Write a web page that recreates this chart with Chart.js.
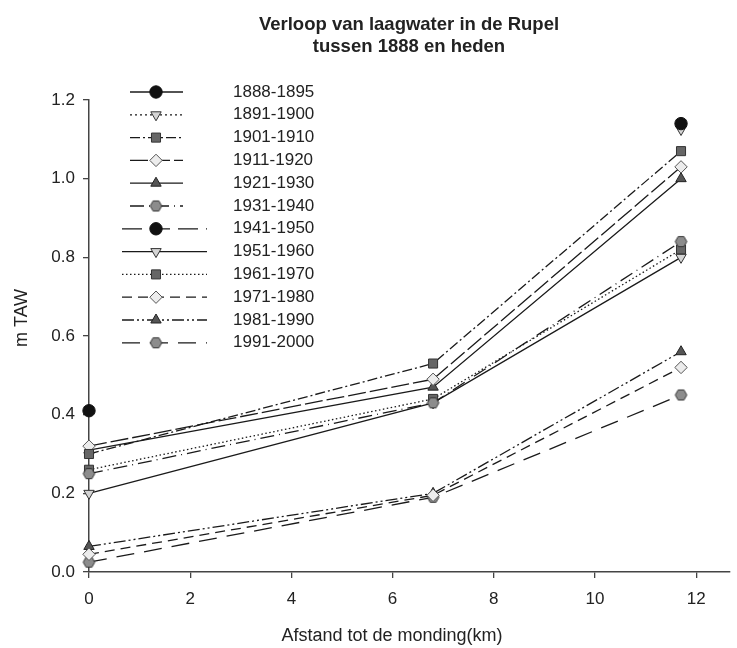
<!DOCTYPE html>
<html>
<head>
<meta charset="utf-8">
<title>Laagwater Rupel</title>
<script src="https://cdn.jsdelivr.net/npm/chart.js@4.4.1/dist/chart.umd.min.js"></script>
<style>
  html, body { margin: 0; padding: 0; background: #fff; }
  #wrap { width: 737px; height: 648px; position: relative; }
</style>
</head>
<body>
<div id="wrap"><canvas id="lwChart"></canvas></div>
<script>
// ── Data ─────────────────────────────────────────────────────────────────────
const distances = [0, 6.8, 11.7];          // km tot de monding
const periods = ['1888-1895', '1891-1900', '1901-1910', '1911-1920', '1921-1930', '1931-1940',
                 '1941-1950', '1951-1960', '1961-1970', '1971-1980', '1981-1990', '1991-2000'];

const lw1888 = [0.41, null, 1.14];
const lw1891 = [null, null, 1.125];
const lw1901 = [0.30, 0.53, 1.07];
const lw1911 = [0.32, 0.49, 1.03];
const lw1921 = [0.31, 0.47, 1.00];
const lw1931 = [0.25, 0.43, 0.84];
const lw1941 = [null, null, null];
const lw1951 = [0.20, 0.43, 0.80];
const lw1961 = [0.26, 0.44, 0.82];
const lw1971 = [0.045, 0.195, 0.52];
const lw1981 = [0.065, 0.20, 0.56];
const lw1991 = [0.025, 0.19, 0.45];

const seriesValues = [lw1888, lw1891, lw1901, lw1911, lw1921, lw1931,
                      lw1941, lw1951, lw1961, lw1971, lw1981, lw1991];

const xTickStep = 2;
const yTickStep = 0.2;

const FONT = '"Liberation Sans", Arial, sans-serif';
const INK = '#222';

// ── Marker + line styles per period ──────────────────────────────────────────
function hexagon(r, fill, stroke) {
    const c = document.createElement('canvas');
    const s = Math.ceil(r * 2 + 3);
    c.width = c.height = s;
    const g = c.getContext('2d');
    g.beginPath();
    for (let i = 0; i < 6; i++) {
        const a = i * Math.PI / 3;
        g.lineTo(s / 2 + r * Math.cos(a), s / 2 + r * Math.sin(a));
    }
    g.closePath();
    g.fillStyle = fill;
    g.fill();
    g.lineWidth = 1;
    g.strokeStyle = stroke;
    g.stroke();
    return c;
}
const hex = hexagon(5.8, '#8c8c8c', '#333');

const circle  = { pointStyle: 'circle',   pointRadius: 6.2, fill: '#111',    edge: '#111', rot: 0 };
const triDown = { pointStyle: 'triangle', pointRadius: 6,   fill: '#d4d4d4', edge: '#333', rot: 180 };
const square  = { pointStyle: 'rect',     pointRadius: 6.4, fill: '#666',    edge: '#333', rot: 0 };
const diamond = { pointStyle: 'rectRot',  pointRadius: 6.2, fill: '#ececec', edge: '#555', rot: 0 };
const triUp   = { pointStyle: 'triangle', pointRadius: 6,   fill: '#555',    edge: '#222', rot: 0 };
const hexMark = { pointStyle: hex,        pointRadius: 6,   fill: '#8c8c8c', edge: '#333', rot: 0 };

const styles = [
    { mark: circle,  dash: [] },
    { mark: triDown, dash: [2, 3] },
    { mark: square,  dash: [10, 3, 2, 3] },
    { mark: diamond, dash: [18, 4] },
    { mark: triUp,   dash: [] },
    { mark: hexMark, dash: [14, 5, 1, 5] },
    { mark: circle,  dash: [20, 8] },
    { mark: triDown, dash: [] },
    { mark: square,  dash: [1.5, 2.5] },
    { mark: diamond, dash: [10, 6] },
    { mark: triUp,   dash: [12, 3, 2, 3, 2, 3] },
    { mark: hexMark, dash: [18, 10] }
];

const datasets = periods.map((label, i) => {
    const st = styles[i];
    return {
        label: label,
        data: distances.map((x, j) => ({ x: x, y: seriesValues[i][j] })),
        borderColor: '#1a1a1a',
        borderWidth: 1.3,
        borderDash: st.dash,
        pointStyle: st.mark.pointStyle,
        pointRadius: st.mark.pointRadius,
        pointRotation: st.mark.rot,
        pointBackgroundColor: st.mark.fill,
        pointBorderColor: st.mark.edge,
        pointBorderWidth: 1,
        spanGaps: false,
        clip: false,
        fill: false,
        tension: 0
    };
});

// ── Legend: line sample, marker and period label ─────────────────────────────
const periodLegend = {
    id: 'periodLegend',
    afterDatasetsDraw(chart) {
        const ctx = chart.ctx;
        chart.data.datasets.forEach((ds, i) => {
            const y = 92 + i * 22.8;
            const x0 = i < 6 ? 130 : 122;
            const x1 = i < 6 ? 183 : 207;
            ctx.save();
            ctx.strokeStyle = ds.borderColor;
            ctx.lineWidth = ds.borderWidth;
            ctx.setLineDash(ds.borderDash);
            ctx.beginPath();
            ctx.moveTo(x0, y);
            ctx.lineTo(x1, y);
            ctx.stroke();
            ctx.setLineDash([]);
            ctx.fillStyle = ds.pointBackgroundColor;
            ctx.strokeStyle = ds.pointBorderColor;
            ctx.lineWidth = 1;
            Chart.helpers.drawPoint(ctx, {
                pointStyle: ds.pointStyle,
                rotation: ds.pointRotation,
                radius: ds.pointRadius,
                borderWidth: 1
            }, 156, y);
            ctx.fillStyle = INK;
            ctx.font = '17px ' + FONT;
            ctx.textBaseline = 'middle';
            ctx.textAlign = 'left';
            ctx.fillText(ds.label, 233, y);
            ctx.restore();
        });
    }
};

// ── Titles ───────────────────────────────────────────────────────────────────
const titles = {
    id: 'titles',
    afterDraw(chart) {
        const ctx = chart.ctx;
        ctx.save();
        ctx.fillStyle = INK;
        ctx.textAlign = 'center';
        ctx.textBaseline = 'middle';
        ctx.font = 'bold 18.5px ' + FONT;
        ctx.fillText('Verloop van laagwater in de Rupel', 409, 25);
        ctx.fillText('tussen 1888 en heden', 409, 47);
        ctx.font = '18px ' + FONT;
        ctx.fillText('Afstand tot de monding(km)', 392, 636);
        ctx.translate(22, 318);
        ctx.rotate(-Math.PI / 2);
        ctx.fillText('m TAW', 0, 0);
        ctx.restore();
    }
};

new Chart(document.getElementById('lwChart').getContext('2d'), {
    type: 'line',
    data: { datasets: datasets },
    options: {
        responsive: true,
        maintainAspectRatio: false,
        animation: false,
        layout: { padding: { top: 100, right: 0, bottom: 0, left: 0 } },
        plugins: {
            legend: { display: false },
            tooltip: { enabled: false },
            title: { display: false }
        },
        scales: {
            x: {
                type: 'linear',
                min: 0,
                max: 12.66,
                afterFit: s => { s.height = 76; },
                ticks: {
                    stepSize: xTickStep,
                    includeBounds: false,
                    maxRotation: 0,
                    padding: 11,
                    color: INK,
                    font: { size: 17, family: FONT }
                },
                grid: { drawOnChartArea: false, tickLength: 6, color: '#444', lineWidth: 1.3 },
                border: { color: '#444', width: 1.5 }
            },
            y: {
                type: 'linear',
                min: 0,
                max: 1.2,
                afterFit: s => { s.width = 89; },
                ticks: {
                    stepSize: yTickStep,
                    padding: 8,
                    color: INK,
                    font: { size: 17, family: FONT },
                    callback: v => v.toFixed(1)
                },
                grid: { drawOnChartArea: false, tickLength: 6, color: '#444', lineWidth: 1.3 },
                border: { color: '#444', width: 1.5 }
            }
        }
    },
    plugins: [periodLegend, titles]
});
</script>
</body>
</html>
